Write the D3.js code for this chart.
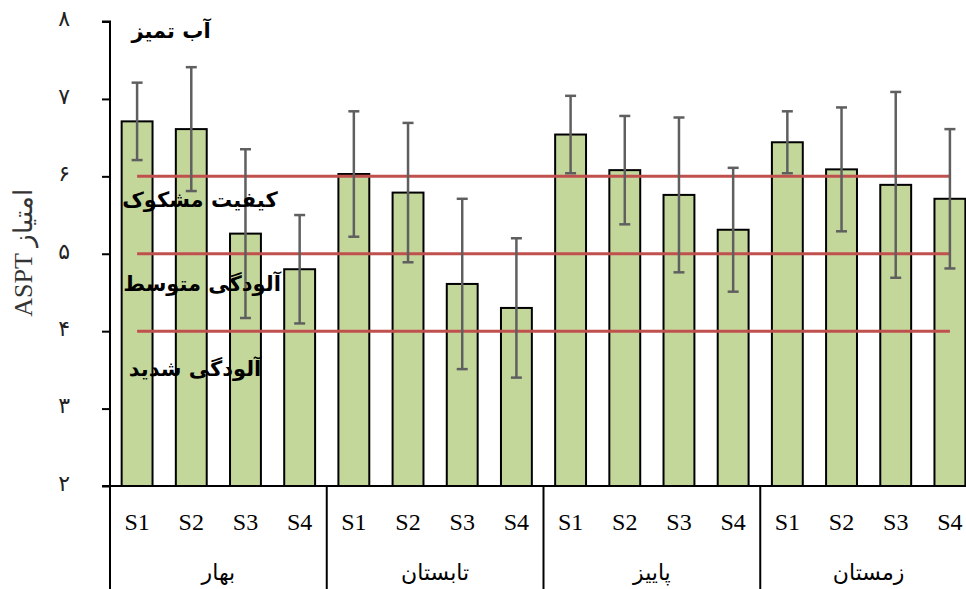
<!DOCTYPE html>
<html>
<head>
<meta charset="utf-8">
<script src="https://cdn.jsdelivr.net/npm/d3@7"></script>
<style>
  html, body { margin: 0; padding: 0; background: #fff; }
  svg { display: block; }
</style>
</head>
<body>
<svg id="chart" width="966" height="589"></svg>
<script>
// Seasons and sampling sites
const seasons = ["بهار", "تابستان", "پاییز", "زمستان"];
const sites = ["S1", "S2", "S3", "S4"];

// Mean ASPT score per season (rows) and site (columns)
const meanSpring = [6.71, 6.61, 5.26, 4.80];
const meanSummer = [6.03, 5.79, 4.61, 4.30];
const meanAutumn = [6.54, 6.08, 5.76, 5.31];
const meanWinter = [6.44, 6.09, 5.89, 5.71];

// Standard deviation (error bar half-length)
const sdSpring = [0.50, 0.80, 1.09, 0.70];
const sdSummer = [0.81, 0.90, 1.10, 0.90];
const sdAutumn = [0.50, 0.70, 1.00, 0.80];
const sdWinter = [0.40, 0.80, 1.20, 0.90];

// Water-quality threshold lines and their zone labels
const thresholds = [6, 5, 4];
const zoneLabels = ["آب تمیز", "کیفیت مشکوک", "آلودگی متوسط", "آلودگی شدید"];
const zoneLabelValues = [7.86, 5.68, 4.6, 3.5];

// Y axis ticks and their Persian numerals
const yTicks = [2, 3, 4, 5, 6, 7, 8];
const yTickLabels = ["۲", "۳", "۴", "۵", "۶", "۷", "۸"];
const yTitle = "ASPT امتیاز";

const means = [meanSpring, meanSummer, meanAutumn, meanWinter];
const sds = [sdSpring, sdSummer, sdAutumn, sdWinter];
const data = [];
seasons.forEach((s, i) => sites.forEach((site, j) => {
  data.push({ season: s, site, mean: means[i][j], sd: sds[i][j] });
}));

const svg = d3.select("#chart");
const plotLeft = 110, plotRight = 977, plotTop = 21.5, plotBottom = 486;

const y = d3.scaleLinear().domain([2, 8]).range([plotBottom, plotTop]);
const x0 = d3.scaleBand().domain(seasons).range([plotLeft, plotRight]).padding(0);
const x1 = d3.scaleBand().domain(sites).range([0, x0.bandwidth()])
  .paddingInner(0.43).paddingOuter(0.215);
const cx = d => x0(d.season) + x1(d.site) + x1.bandwidth() / 2;

const serif = "'Liberation Serif', 'Times New Roman', serif";
const arabic = "'DejaVu Sans', sans-serif";

// Bars
svg.append("g").selectAll("rect").data(data).join("rect")
  .attr("x", d => x0(d.season) + x1(d.site))
  .attr("y", d => y(d.mean))
  .attr("width", x1.bandwidth())
  .attr("height", d => y(2) - y(d.mean))
  .attr("fill", "#c4d79b")
  .attr("stroke", "#000")
  .attr("stroke-width", 2);

// Threshold lines spanning first to last bar centre
const xStart = cx(data[0]), xEnd = cx(data[data.length - 1]);
svg.append("g").selectAll("line").data(thresholds).join("line")
  .attr("x1", xStart).attr("x2", xEnd)
  .attr("y1", d => y(d)).attr("y2", d => y(d))
  .attr("stroke", "#c0504d")
  .attr("stroke-width", 3);

// Error bars
const eb = svg.append("g").attr("stroke", "#5f5f5f").attr("stroke-width", 2.5);
data.forEach(d => {
  const xc = cx(d);
  eb.append("line").attr("x1", xc).attr("x2", xc)
    .attr("y1", y(d.mean + d.sd)).attr("y2", y(d.mean - d.sd));
  [d.mean + d.sd, d.mean - d.sd].forEach(v => {
    eb.append("line").attr("x1", xc - 5.5).attr("x2", xc + 5.5)
      .attr("y1", y(v)).attr("y2", y(v));
  });
});

// Zone labels
const zoneX = [171, 200, 202, 195];
svg.append("g").selectAll("text").data(zoneLabels).join("text")
  .attr("x", (d, i) => zoneX[i])
  .attr("y", (d, i) => y(zoneLabelValues[i]))
  .attr("text-anchor", "middle")
  .attr("dominant-baseline", "middle")
  .attr("font-family", arabic)
  .attr("font-weight", "bold")
  .attr("font-size", 21)
  .attr("fill", "#000")
  .text(d => d);

// Y axis
const yAxis = d3.axisLeft(y).tickValues(yTicks)
  .tickFormat((d, i) => yTickLabels[i]).tickSize(8).tickPadding(32);
const gy = svg.append("g").attr("transform", `translate(${plotLeft},0)`).call(yAxis);
gy.select(".domain").attr("stroke", "#000").attr("stroke-width", 2)
  .attr("d", `M-8,${plotTop}H0V${plotBottom}H-8`);
gy.selectAll(".tick line").attr("stroke", "#000").attr("stroke-width", 2);
gy.selectAll(".tick text").attr("font-family", arabic).attr("font-size", 22)
  .attr("fill", "#222").attr("dy", "0.2em");

// Y axis title
svg.append("text")
  .attr("transform", `translate(32,253) rotate(-90)`)
  .attr("text-anchor", "middle")
  .attr("font-family", serif)
  .attr("font-size", 26)
  .attr("fill", "#333")
  .text(yTitle);

// X axis: baseline, group separators, site and season labels
const gx = svg.append("g");
gx.append("line").attr("x1", plotLeft).attr("x2", plotRight)
  .attr("y1", plotBottom).attr("y2", plotBottom)
  .attr("stroke", "#000").attr("stroke-width", 2);
const seps = seasons.map(s => x0(s)).concat([plotRight]);
gx.selectAll(".sep").data(seps).join("line")
  .attr("class", "sep")
  .attr("x1", d => d).attr("x2", d => d)
  .attr("y1", plotBottom).attr("y2", 589)
  .attr("stroke", "#000").attr("stroke-width", 2);
gx.selectAll(".site").data(data).join("text")
  .attr("class", "site")
  .attr("x", d => cx(d))
  .attr("y", 530)
  .attr("text-anchor", "middle")
  .attr("font-family", serif)
  .attr("font-size", 24)
  .attr("fill", "#000")
  .text(d => d.site);
gx.selectAll(".season").data(seasons).join("text")
  .attr("class", "season")
  .attr("x", d => x0(d) + x0.bandwidth() / 2)
  .attr("y", 580)
  .attr("text-anchor", "middle")
  .attr("font-family", arabic)
  .attr("font-size", 22)
  .attr("fill", "#000")
  .text(d => d);
</script>
</body>
</html>
